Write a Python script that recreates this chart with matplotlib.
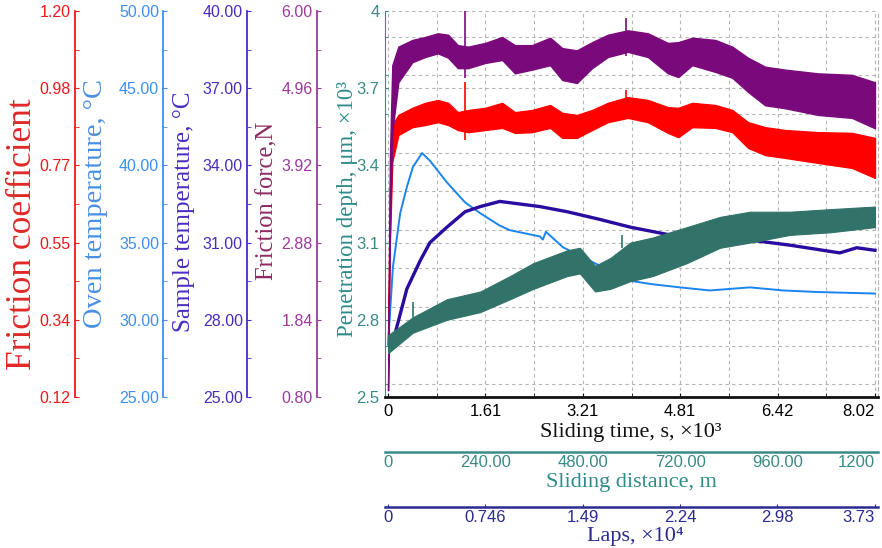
import numpy as np
import matplotlib
matplotlib.use("Agg")
import matplotlib.pyplot as plt
from matplotlib.ticker import MultipleLocator, AutoMinorLocator

W, H = 882, 548
SERIF = ["Liberation Serif", "DejaVu Serif"]
plt.rcParams.update({
    "font.family": ["Liberation Sans", "DejaVu Sans"],
    "font.size": 11.5,
})

# ---- data (sliding time in s x10^3) -----------------------------------
T_MAX = 8.02
TIME_TICKS = np.linspace(0, T_MAX, 6)
TIME_LABELS = ["0", "1.61", "3.21", "4.81", "6.42", "8.02"]
DIST_MAX = 1200
DIST_TICKS = [0, 240, 480, 720, 960, 1200]
DIST_LABELS = ["0", "240.00", "480.00", "720.00", "960.00", "1200"]
LAPS_MAX = 3.73
LAPS_TICKS = [0, 0.746, 1.49, 2.24, 2.98, 3.73]
LAPS_LABELS = ["0", "0.746", "1.49", "2.24", "2.98", "3.73"]

# friction force (N) and friction coefficient: noisy bands, upper/lower edge
T_BAND = [0, 0.03, 0.07, 0.17, 0.40, 0.61, 0.82, 0.99, 1.15, 1.32, 1.60, 1.88,
          2.09, 2.37, 2.67, 2.87, 3.11, 3.36, 3.62, 3.95, 4.28, 4.61, 4.78,
          5.01, 5.39, 5.67, 5.93, 6.21, 6.54, 7.08, 7.64, 8.02]
FORCE_HI = [0.89, 4.00, 5.27, 5.52, 5.61, 5.65, 5.70, 5.68, 5.54, 5.52, 5.57,
            5.65, 5.54, 5.54, 5.64, 5.50, 5.47, 5.58, 5.68, 5.74, 5.70, 5.57,
            5.58, 5.64, 5.61, 5.52, 5.37, 5.25, 5.21, 5.16, 5.14, 5.04]
FORCE_LO = [0.89, 3.00, 4.37, 5.04, 5.31, 5.38, 5.43, 5.37, 5.23, 5.23, 5.30,
            5.34, 5.16, 5.21, 5.27, 5.07, 5.03, 5.23, 5.38, 5.45, 5.38, 5.16,
            5.11, 5.27, 5.18, 5.10, 4.91, 4.73, 4.69, 4.60, 4.56, 4.42]
COF_HI = [0.28, 0.70, 0.881, 0.909, 0.929, 0.943, 0.951, 0.943, 0.917, 0.923,
          0.929, 0.943, 0.917, 0.923, 0.937, 0.915, 0.909, 0.923, 0.943, 0.959,
          0.951, 0.931, 0.929, 0.943, 0.937, 0.923, 0.889, 0.875, 0.867, 0.861,
          0.859, 0.845]
COF_LO = [0.28, 0.55, 0.778, 0.853, 0.875, 0.881, 0.889, 0.881, 0.867, 0.861,
          0.867, 0.873, 0.859, 0.861, 0.873, 0.845, 0.845, 0.867, 0.889, 0.901,
          0.889, 0.859, 0.847, 0.875, 0.873, 0.861, 0.817, 0.797, 0.789, 0.775,
          0.761, 0.733]

# oven temperature (C)
T_OVEN = [0, 0.08, 0.2, 0.31, 0.41, 0.56, 0.69, 0.97, 1.27, 1.52, 1.84, 2.01,
          2.50, 2.55, 2.60, 2.88, 3.49, 4.03, 4.36, 4.81, 5.30, 5.96, 6.51,
          7.07, 8.02]
OVEN = [28.4, 33.4, 36.9, 38.6, 39.9, 40.8, 40.3, 38.9, 37.6, 36.9, 36.1, 35.8,
        35.4, 35.2, 35.7, 34.7, 33.5, 32.5, 32.3, 32.1, 31.9, 32.1, 31.9, 31.8,
        31.7]

# sample temperature (C)
T_SAMPLE = [0.12, 0.31, 0.53, 0.69, 0.97, 1.27, 1.52, 1.84, 2.50, 2.95, 3.49,
            3.99, 4.64, 5.96, 6.62, 7.44, 7.72, 8.02]
SAMPLE = [27.5, 29.2, 30.3, 31.0, 31.6, 32.2, 32.4, 32.6, 32.4, 32.2, 31.9,
          31.6, 31.3, 31.1, 30.9, 30.6, 30.8, 30.7]

# penetration depth (um x10^3), band
T_PEN = [0, 0.41, 0.97, 1.52, 2.01, 2.39, 2.95, 3.16, 3.41, 3.66, 3.99, 4.36,
         4.92, 5.47, 5.96, 6.62, 7.28, 8.02]
PEN_HI = [2.74, 2.81, 2.88, 2.91, 2.97, 3.02, 3.07, 3.08, 3.01, 3.04, 3.10,
          3.12, 3.16, 3.20, 3.22, 3.22, 3.23, 3.24]
PEN_LO = [2.67, 2.75, 2.80, 2.83, 2.88, 2.92, 2.97, 2.98, 2.91, 2.92, 2.95,
          2.97, 3.02, 3.08, 3.10, 3.13, 3.14, 3.16]

# short glitches in the recording
SPIKE_T = [1.27, 3.92]
FORCE_SPIKE_LO, FORCE_SPIKE_HI = [5.10, 5.40], [6.00, 5.91]
COF_SPIKE_LO, COF_SPIKE_HI = [0.84, 0.90], [1.00, 0.98]
PEN_SPIKE_T, PEN_SPIKE_LO, PEN_SPIKE_HI = [0.41, 3.86], [2.80, 3.08], [2.87, 3.13]

# ---- colours ------------------------------------------------------------
C_COF, C_COF_TXT = "#f01818", "#e02828"
C_OVEN, C_OVEN_TXT = "#3d8ff0", "#4a90e0"
C_SAMP, C_SAMP_LINE = "#4b2bc0", "#2a0ca0"
C_FORCE, C_FORCE_BAND, C_FORCE_TXT = "#9a3a9a", "#7a0a7c", "#8e2c63"
C_PEN, C_PEN_BAND, C_PEN_TXT = "#3a8a86", "#327369", "#2f8c8a"
C_LAPS = "#2a2a90"
GRID = "#b4b4b4"

fig = plt.figure(figsize=(W / 100, H / 100), dpi=100)
ax = fig.add_axes([385 / W, 1 - 397 / H, 493 / W, 386 / H])
XLIM = (-0.05, 8.07)


def px(x, y):
    return x / W, 1 - y / H


# main axis: penetration depth scale, time axis, grid
ax.set_xlim(XLIM)
ax.set_ylim(2.5, 4.0)
ax.set_xticks(TIME_TICKS)
ax.set_xticklabels(TIME_LABELS)
ax.xaxis.set_minor_locator(MultipleLocator(T_MAX / 10))
ax.set_yticks([2.5, 2.8, 3.1, 3.4, 3.7, 4.0])
ax.set_yticklabels(["2.5", "2.8", "3.1", "3.4", "3.7", "4"])
ax.yaxis.set_minor_locator(MultipleLocator(0.15))
ax.grid(which="both", color=GRID, linestyle=(0, (3, 3)), linewidth=0.8)
ax.set_axisbelow(True)
ax.spines["top"].set_visible(False)
ax.spines["right"].set_color(GRID)
ax.spines["right"].set_linestyle((0, (3, 3)))
ax.spines["left"].set_color(C_PEN)
ax.spines["bottom"].set_color("#111111")
ax.spines["bottom"].set_linewidth(2)
ax.tick_params(axis="x", which="both", direction="in", length=3, pad=5,
               labelsize=12, color="#111111")
ax.tick_params(axis="y", which="both", direction="in", length=2, pad=4,
               labelsize=12, color=C_PEN, labelcolor=C_PEN)
ax.get_xticklabels()[-1].set_horizontalalignment("right")


def left_axis(off, lim, ticks, labels, color):
    tw = ax.twinx()
    tw.set_ylim(lim)
    for s in tw.spines.values():
        s.set_visible(False)
    sp = tw.spines["left"]
    sp.set_visible(True)
    sp.set_position(("axes", off))
    sp.set_color(color)
    sp.set_linewidth(1.3)
    tw.yaxis.set_ticks_position("left")
    tw.set_yticks(ticks)
    tw.set_yticklabels(labels)
    tw.yaxis.set_minor_locator(AutoMinorLocator(2))
    tw.tick_params(axis="y", which="both", direction="in", length=3, pad=3,
                   colors=color, labelsize=11.5)
    return tw


ax_cof = left_axis(-0.629, (0.12, 1.20), np.linspace(0.12, 1.20, 6),
                   ["0.12", "0.34", "0.55", "0.77", "0.98", "1.20"], C_COF)
ax_oven = left_axis(-0.450, (25, 50), np.linspace(25, 50, 6),
                    [f"{v:.2f}" for v in np.linspace(25, 50, 6)], C_OVEN)
ax_samp = left_axis(-0.280, (25, 40), np.linspace(25, 40, 6),
                    [f"{v:.2f}" for v in np.linspace(25, 40, 6)], C_SAMP)
ax_force = left_axis(-0.138, (0.8, 6.0), np.linspace(0.8, 6.0, 6),
                     [f"{v:.2f}" for v in np.linspace(0.8, 6.0, 6)], C_FORCE)

# curves
ax_force.fill_between(T_BAND, FORCE_LO, FORCE_HI, color=C_FORCE_BAND,
                      linewidth=1.0, edgecolor=C_FORCE_BAND)
ax_force.vlines(SPIKE_T, FORCE_SPIKE_LO, FORCE_SPIKE_HI, color=C_FORCE_BAND,
                linewidth=1.2)
ax_cof.fill_between(T_BAND, COF_LO, COF_HI, color="#ff0000", linewidth=1.0,
                    edgecolor="#ff0000")
ax_cof.vlines(SPIKE_T, COF_SPIKE_LO, COF_SPIKE_HI, color="#ff0000",
              linewidth=1.2)
ax_oven.plot(T_OVEN, OVEN, color="#1a84f0", linewidth=1.4)
ax_samp.plot(T_SAMPLE, SAMPLE, color=C_SAMP_LINE, linewidth=2.4)

ax_pen = ax.twinx()
ax_pen.set_ylim(2.5, 4.0)
ax_pen.yaxis.set_visible(False)
for s in ax_pen.spines.values():
    s.set_visible(False)
ax_pen.fill_between(T_PEN, PEN_LO, PEN_HI, color=C_PEN_BAND, linewidth=0.8,
                    edgecolor=C_PEN_BAND)
ax_pen.vlines(PEN_SPIKE_T, PEN_SPIKE_LO, PEN_SPIKE_HI, color=C_PEN_BAND,
              linewidth=1.2)


def bottom_axis(offset, vmax, ticks, labels, color, tlen):
    tw = ax.twiny()
    k = vmax / T_MAX
    tw.set_xlim(XLIM[0] * k, XLIM[1] * k)
    for s in tw.spines.values():
        s.set_visible(False)
    sp = tw.spines["bottom"]
    sp.set_visible(True)
    sp.set_position(("outward", offset))
    sp.set_color(color)
    sp.set_linewidth(1.8)
    tw.xaxis.set_ticks_position("bottom")
    tw.set_xticks(ticks)
    tw.set_xticklabels(labels)
    tw.tick_params(axis="x", direction="in", length=tlen, pad=2,
                   colors=color, labelsize=12)
    tw.get_xticklabels()[-1].set_horizontalalignment("right")
    return tw


bottom_axis(39.6, DIST_MAX, DIST_TICKS, DIST_LABELS, C_PEN, 0)
bottom_axis(79.2, LAPS_MAX, LAPS_TICKS, LAPS_LABELS, C_LAPS, 2)

# axis titles
fig.text(*px(631, 432), "Sliding time, s, ×10³", ha="center", va="center",
         fontsize=16, family=SERIF, color="#111111")
fig.text(*px(631, 482), "Sliding distance, m", ha="center", va="center",
         fontsize=16, family=SERIF, color=C_PEN_TXT)
fig.text(*px(635, 537), "Laps, ×10⁴", ha="center", va="center",
         fontsize=16, family=SERIF, color=C_LAPS)

for x, y, txt, size, col in [
        (23, 234, "Friction coefficient", 25.5, C_COF_TXT),
        (96, 203, "Oven temperature, °C", 20.5, C_OVEN_TXT),
        (184, 212, "Sample temperature, °C", 18, C_SAMP),
        (267, 201, "Friction force,N", 17.7, C_FORCE_TXT),
        (347, 209, "Penetration depth, μm, ×10³", 16.5, C_PEN_TXT)]:
    fig.text(*px(x, y), txt, rotation=90, ha="center", va="center",
             fontsize=size, family=SERIF, color=col)

fig.savefig("out.png", dpi=100)
